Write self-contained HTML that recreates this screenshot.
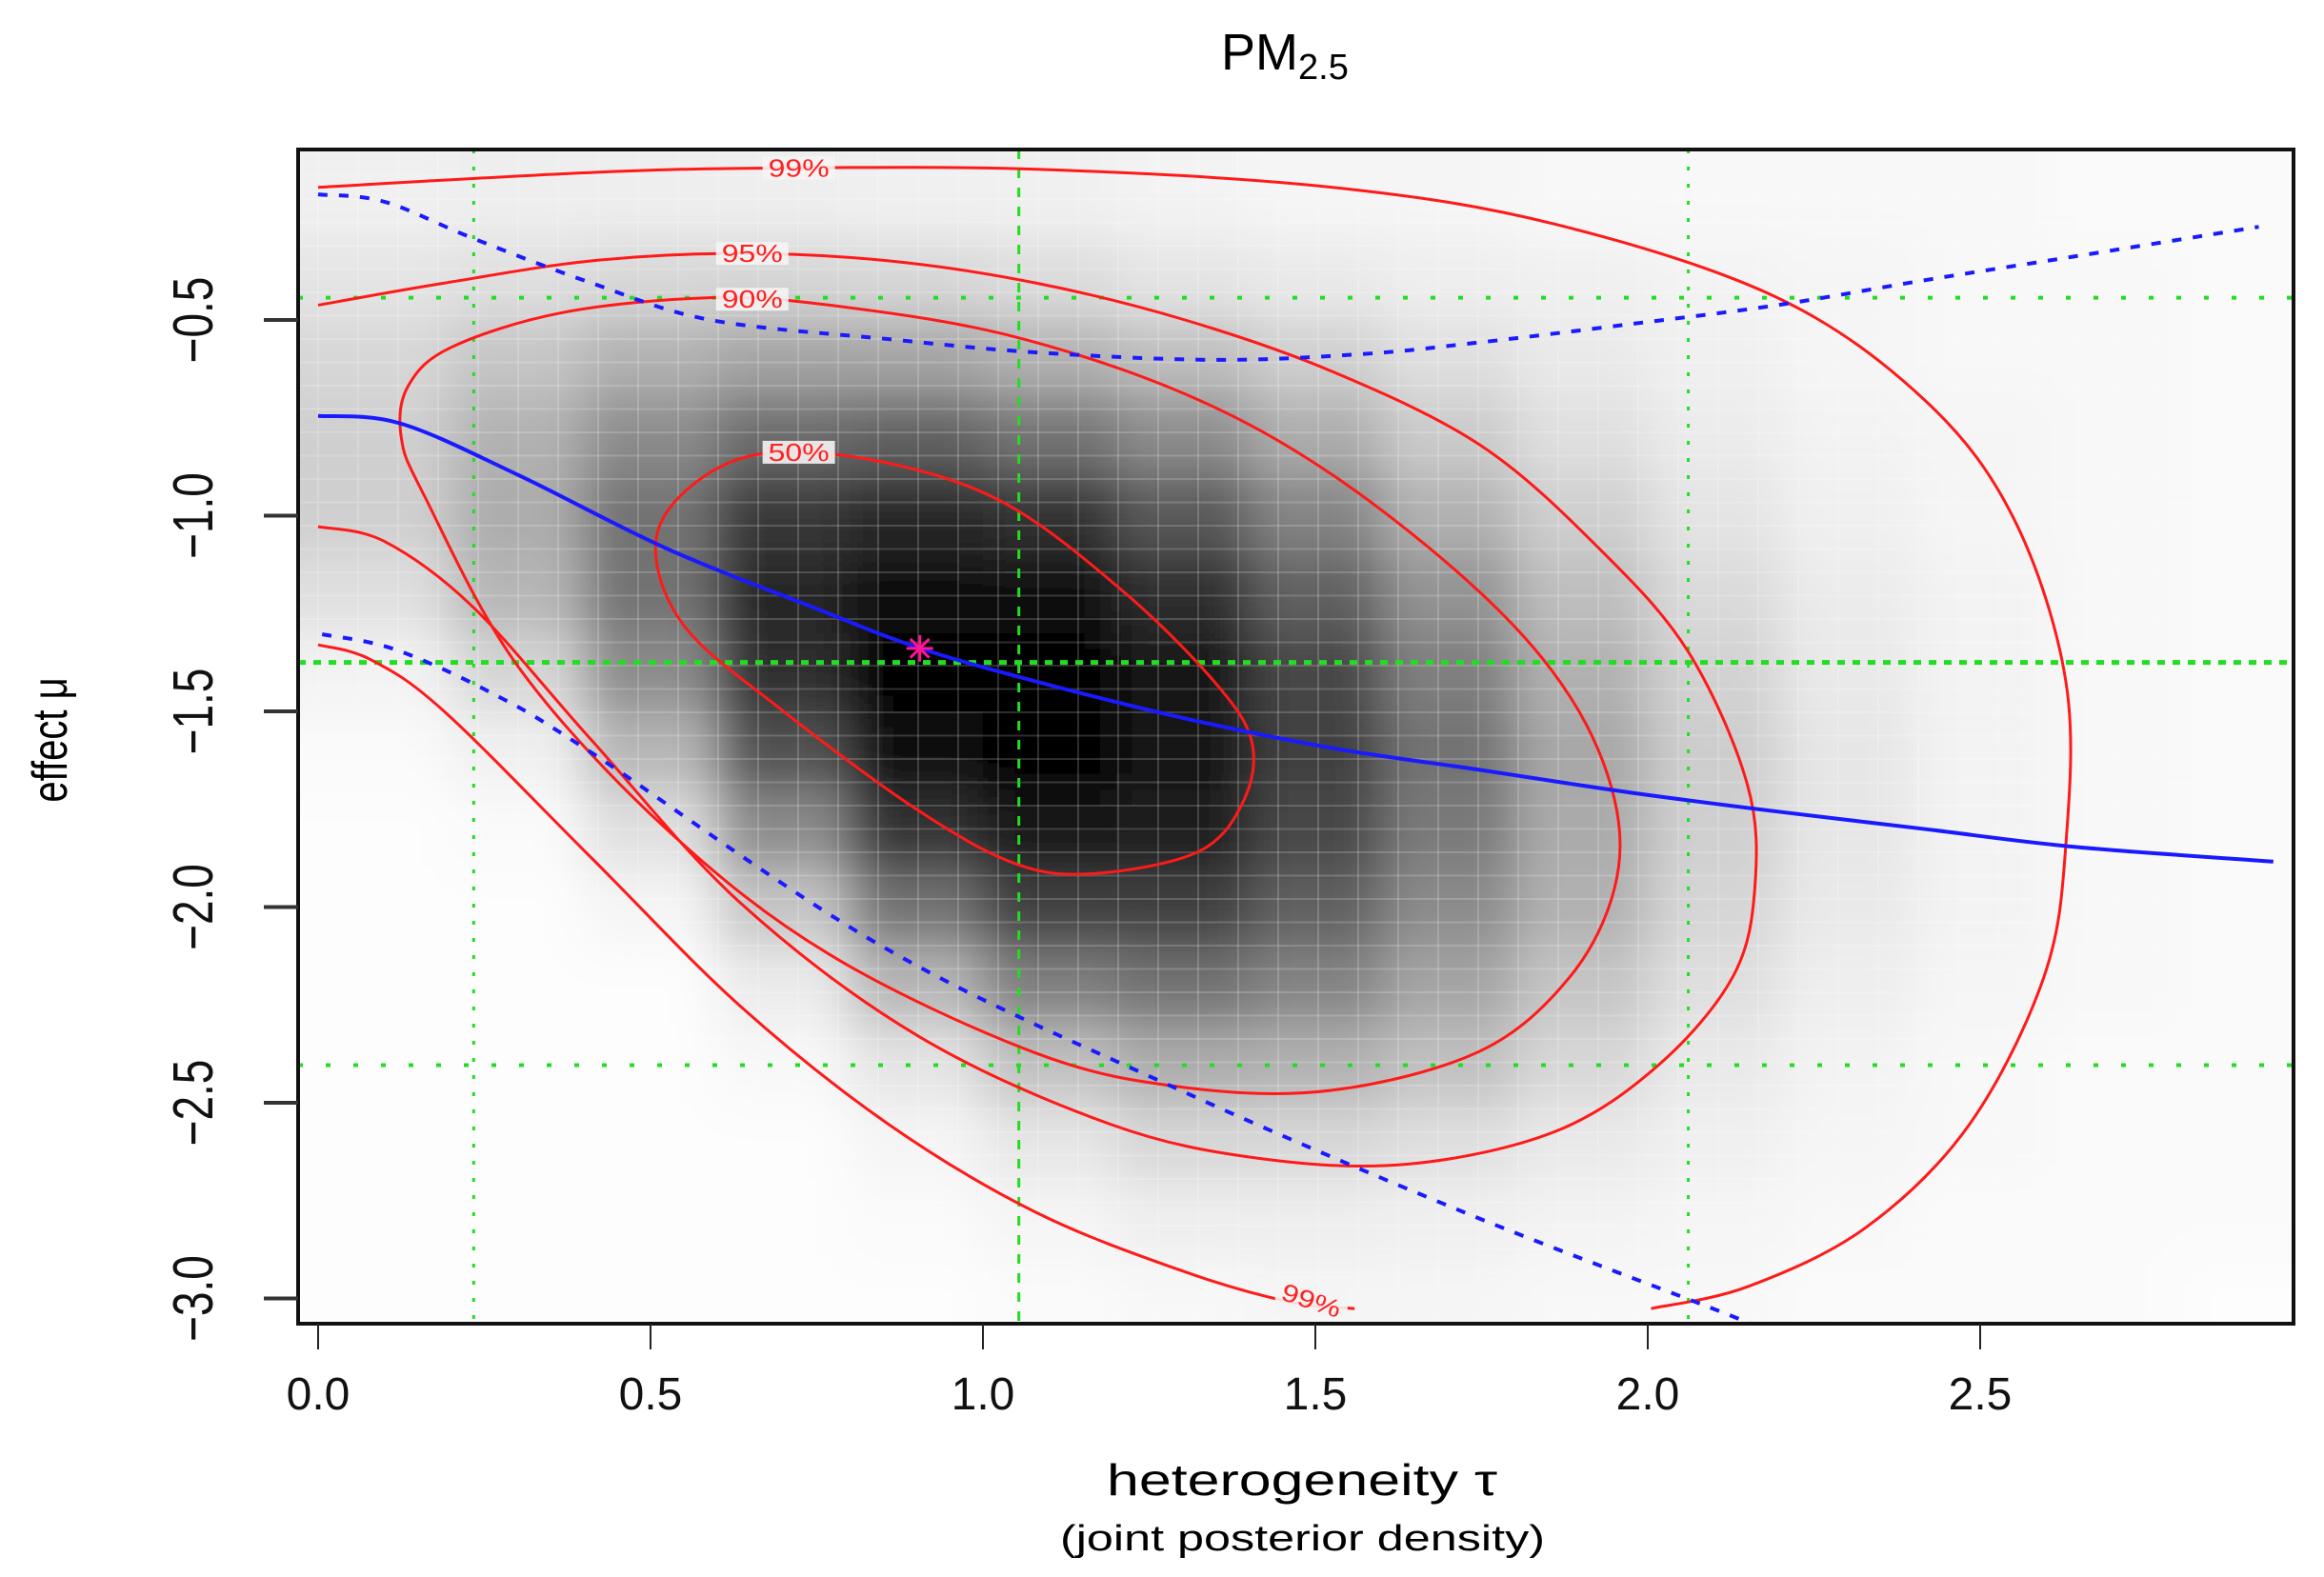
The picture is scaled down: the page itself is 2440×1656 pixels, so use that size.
<!DOCTYPE html>
<html><head><meta charset="utf-8"><style>
html,body{margin:0;padding:0;background:#fff;}
svg{display:block;}
text{font-family:"Liberation Sans",sans-serif;}
</style></head><body>
<svg id="chart" width="2440" height="1656" viewBox="0 0 2440 1656" xmlns="http://www.w3.org/2000/svg">
<defs>
<clipPath id="plotclip"><rect x="313" y="157" width="2095" height="1233"/></clipPath>
<filter id="blur" x="-10%" y="-10%" width="120%" height="120%"><feGaussianBlur stdDeviation="25"/></filter>
</defs>
<rect x="0" y="0" width="2440" height="1656" fill="#fff"/>
<g id="heat" clip-path="url(#plotclip)"></g>
<g id="gridtex" clip-path="url(#plotclip)"></g>
<g id="refs" clip-path="url(#plotclip)"></g>
<g id="curves" clip-path="url(#plotclip)"></g>
<g id="labels"></g>
<rect x="313" y="157" width="2095" height="1233" fill="none" stroke="#111" stroke-width="4"/>
<g id="axes"></g>
<text x="1282" y="73" font-size="54">PM<tspan font-size="38" dy="10">2.5</tspan></text>
<text x="1162" y="1570" font-size="46" textLength="410" lengthAdjust="spacingAndGlyphs">heterogeneity τ</text>
<text x="1113" y="1628" font-size="38" textLength="509" lengthAdjust="spacingAndGlyphs">(joint posterior density)</text>
<text transform="translate(70,777) rotate(-90) scale(1,1.3)" text-anchor="middle" font-size="40">effect μ</text>
</svg>
<script>
// ---- data ----
const tauCenters=[0.1,0.3,0.5,0.7,0.9,1.1,1.3,1.5,1.7,1.9,2.1,2.3,2.5,2.7,2.9];
const muCenters=[-0.2,-0.4,-0.6,-0.8,-1.0,-1.2,-1.4,-1.6,-1.8,-2.0,-2.2,-2.4,-2.6,-2.8,-3.0];
const density=[
[0.05,0.06,0.06,0.06,0.05,0.05,0.04,0.03,0.03,0.02,0.02,0.02,0.02,0.01,0.01],
[0.10,0.12,0.15,0.16,0.15,0.13,0.10,0.08,0.06,0.05,0.04,0.03,0.02,0.02,0.01],
[0.15,0.22,0.30,0.35,0.35,0.30,0.25,0.18,0.12,0.08,0.05,0.03,0.02,0.02,0.01],
[0.18,0.30,0.45,0.58,0.62,0.55,0.45,0.32,0.20,0.12,0.07,0.04,0.03,0.02,0.01],
[0.18,0.32,0.55,0.78,0.85,0.80,0.65,0.48,0.30,0.18,0.10,0.05,0.03,0.02,0.01],
[0.12,0.28,0.55,0.85,0.95,0.95,0.82,0.62,0.42,0.25,0.14,0.07,0.04,0.02,0.01],
[0.04,0.16,0.45,0.82,1.00,1.00,0.90,0.72,0.50,0.30,0.17,0.08,0.04,0.02,0.01],
[0.01,0.05,0.28,0.68,0.95,1.00,0.92,0.75,0.55,0.34,0.19,0.09,0.04,0.02,0.01],
[0.00,0.01,0.12,0.45,0.80,0.92,0.88,0.72,0.52,0.33,0.18,0.09,0.04,0.02,0.01],
[0.00,0.00,0.03,0.22,0.55,0.75,0.75,0.62,0.45,0.30,0.16,0.08,0.04,0.02,0.01],
[0.00,0.00,0.00,0.07,0.28,0.50,0.55,0.48,0.35,0.22,0.12,0.06,0.03,0.02,0.01],
[0.00,0.00,0.00,0.02,0.10,0.24,0.32,0.30,0.24,0.15,0.08,0.04,0.02,0.01,0.01],
[0.00,0.00,0.00,0.00,0.03,0.09,0.15,0.15,0.12,0.08,0.05,0.03,0.02,0.01,0.01],
[0.00,0.00,0.00,0.00,0.01,0.03,0.06,0.06,0.05,0.04,0.03,0.02,0.01,0.01,0.01],
[0.00,0.00,0.00,0.00,0.00,0.01,0.02,0.03,0.03,0.02,0.02,0.01,0.01,0.01,0.00]];
const xTicks=[0,0.5,1,1.5,2,2.5];
const xTickLabels=["0.0","0.5","1.0","1.5","2.0","2.5"];
const yTicks=[-0.5,-1,-1.5,-2,-2.5,-3];
const yTickLabels=["−0.5","−1.0","−1.5","−2.0","−2.5","−3.0"];
const c50Tau=[0.508,0.568,0.680,0.858,1.036,1.214,1.348,1.404,1.393,1.326,1.170,1.050,0.900,0.700,0.550];
const c50Mu=[-1.066,-0.915,-0.839,-0.866,-0.971,-1.198,-1.424,-1.575,-1.725,-1.857,-1.914,-1.890,-1.750,-1.500,-1.280];
const c90Tau=[0.135,0.200,0.368,0.590,0.769,1.036,1.304,1.526,1.749,1.883,1.950,1.950,1.883,1.749,1.526,1.304,1.081,0.769,0.524,0.301,0.160,0.125];
const c90Mu=[-0.670,-0.570,-0.481,-0.443,-0.462,-0.538,-0.689,-0.896,-1.198,-1.462,-1.725,-1.952,-2.178,-2.367,-2.468,-2.461,-2.374,-2.121,-1.801,-1.386,-0.950,-0.800];
const c95Tau=[0,0.189,0.412,0.635,0.858,1.081,1.304,1.526,1.749,1.927,2.061,2.150,2.161,2.128,2.016,1.860,1.638,1.415,1.192,0.902,0.635,0.412,0.234,0.100,0];
const c95Mu=[-0.462,-0.406,-0.349,-0.330,-0.349,-0.406,-0.500,-0.632,-0.821,-1.084,-1.348,-1.688,-1.952,-2.178,-2.404,-2.574,-2.657,-2.642,-2.555,-2.329,-1.989,-1.575,-1.235,-1.066,-1.028];
const c99UpperTau=[0,0.412,0.680,1.081,1.526,1.860,2.195,2.418,2.551,2.629,2.629,2.596,2.484,2.328,2.150,2.005];
const c99UpperMu=[-0.161,-0.123,-0.112,-0.115,-0.161,-0.255,-0.443,-0.707,-1.009,-1.424,-1.839,-2.178,-2.555,-2.819,-2.970,-3.026];
const c99LowerTau=[0,0.078,0.189,0.412,0.635,0.858,1.081,1.304,1.459,1.559];
const c99LowerMu=[-1.330,-1.367,-1.499,-1.876,-2.253,-2.555,-2.781,-2.932,-3.008,-3.026];
const meanTau=[0,0.123,0.301,0.524,0.746,0.902,1.081,1.304,1.526,1.749,1.972,2.195,2.418,2.641,2.941];
const meanMu=[-0.745,-0.764,-0.896,-1.084,-1.235,-1.337,-1.424,-1.518,-1.594,-1.650,-1.707,-1.756,-1.801,-1.846,-1.884];
const upperTau=[0,0.100,0.234,0.412,0.590,0.858,1.081,1.348,1.571,1.749,1.972,2.195,2.418,2.641,2.919];
const upperMu=[-0.179,-0.198,-0.292,-0.406,-0.500,-0.549,-0.583,-0.602,-0.587,-0.557,-0.511,-0.462,-0.398,-0.338,-0.262];
const lowerTau=[0.006,0.116,0.262,0.408,0.847,1.285,1.724,2.119,2.17];
const lowerMu=[-1.303,-1.342,-1.454,-1.602,-2.099,-2.459,-2.780,-3.040,-3.08];
const vRefTau=[0.234,1.054,2.061];
const hRefMu=[-0.443,-1.375,-2.404];
const modeTau=0.905, modeMu=-1.339;
const contourLabels=["99%","95%","90%","50%","99%"];
const labelTau=[0.723,0.653,0.653,0.723,1.494];
const labelMu=[-0.112,-0.330,-0.447,-0.838,-3.005];

// ---- scales ----
const X=t=>334+698*t;
const Y=m=>336+(-0.5-m)*411;
const NS='http://www.w3.org/2000/svg';
function mk(tag,attrs,parent){const e=document.createElementNS(NS,tag);for(const k in attrs)e.setAttribute(k,attrs[k]);parent.appendChild(e);return e;}
function smooth(ts,ms,closed){
  const p=ts.map((t,i)=>[X(t),Y(ms[i])]);const n=p.length;
  let d='M'+p[0][0].toFixed(1)+','+p[0][1].toFixed(1);
  const get=i=>closed?p[(i+n)%n]:p[Math.max(0,Math.min(n-1,i))];
  const segs=closed?n:n-1;
  for(let i=0;i<segs;i++){const p0=get(i-1),p1=get(i),p2=get(i+1),p3=get(i+2);
    const c1=[p1[0]+(p2[0]-p0[0])/6,p1[1]+(p2[1]-p0[1])/6];
    const c2=[p2[0]-(p3[0]-p1[0])/6,p2[1]-(p3[1]-p1[1])/6];
    d+='C'+c1[0].toFixed(1)+','+c1[1].toFixed(1)+' '+c2[0].toFixed(1)+','+c2[1].toFixed(1)+' '+p2[0].toFixed(1)+','+p2[1].toFixed(1);}
  if(closed)d+='Z';return d;}

// heatmap
const heat=document.getElementById('heat');
const hg=mk('g',{filter:'url(#blur)'},heat);
const dT=0.2,dM=0.2;
for(let r=0;r<muCenters.length;r++)for(let c=0;c<tauCenters.length;c++){
  const v=density[r][c];const g=Math.round(253*(1-v));
  const x0=X(tauCenters[c]-dT/2), x1=X(tauCenters[c]+dT/2), y0=Y(muCenters[r]+dM/2), y1=Y(muCenters[r]-dM/2);
  const ex=(c===0?-80:0), ey=(r===0?-80:0);
  const ex2=(c===tauCenters.length-1?80:0), ey2=(r===muCenters.length-1?80:0);
  const cell=mk('rect',{x:x0+ex,y:y0+ey,width:x1-x0+1-ex+ex2,height:y1-y0+1-ey+ey2,fill:`rgb(${g},${g},${g})`},hg);
  
  
}
// faint cell grid texture
const gt=document.getElementById('gridtex');
for(let x=334;x<2408;x+=42){mk('line',{x1:x,y1:157,x2:x,y2:1390,stroke:'#fff','stroke-opacity':0.18,'stroke-width':2},gt);}
for(let y=160;y<1390;y+=24.5){mk('line',{x1:313,y1:y,x2:2408,y2:y,stroke:'#fff','stroke-opacity':0.18,'stroke-width':2},gt);}

// reference lines
const refs=document.getElementById('refs');
vRefTau.forEach((t,i)=>{const l=mk('line',{x1:X(t),y1:157,x2:X(t),y2:1390,stroke:'#22dd22','stroke-width':3,'stroke-dasharray':i===1?'10,10':'4,14'},refs);
  });
hRefMu.forEach((m,i)=>{const l=mk('line',{x1:313,y1:Y(m),x2:2408,y2:Y(m),stroke:'#22dd22','stroke-width':i===1?5:4,'stroke-dasharray':i===1?'8,8':'5,24'},refs);
  });

// curves
const cv=document.getElementById('curves');
const addPath=(d,stroke,w,dash,name)=>{const p=mk('path',{d:d,fill:'none',stroke:stroke,'stroke-width':w},cv);if(dash)p.setAttribute('stroke-dasharray',dash);
  return p;};
addPath(smooth(c50Tau,c50Mu,true),'#ff1a1a',3,null,'contour-50');
addPath(smooth(c90Tau,c90Mu,true),'#ff1a1a',3,null,'contour-90');
addPath(smooth(c95Tau,c95Mu,false),'#ff1a1a',3,null,'contour-95');
addPath(smooth(c99UpperTau,c99UpperMu,false),'#ff1a1a',3,null,'contour-99-upper');
addPath(smooth(c99LowerTau,c99LowerMu,false),'#ff1a1a',3,null,'contour-99-lower');
addPath(smooth(meanTau,meanMu,false),'#1a1aff',4,null,'conditional-mean-line');
addPath(smooth(upperTau,upperMu,false),'#1a1aff',4,'10,12','conditional-upper-bound');
addPath(smooth(lowerTau,lowerMu,false),'#1a1aff',4,'10,12','conditional-lower-bound');
// mode star
const sx=X(modeTau), sy=Y(modeMu);
const star=mk('g',{stroke:'#ff1493','stroke-width':3},cv);


for(let a=0;a<4;a++){const ang=a*Math.PI/4;mk('line',{x1:sx-14*Math.cos(ang),y1:sy-14*Math.sin(ang),x2:sx+14*Math.cos(ang),y2:sy+14*Math.sin(ang)},star);}

// contour labels
const lab=document.getElementById('labels');
contourLabels.forEach((s,i)=>{const x=X(labelTau[i]),y=Y(labelMu[i]);
  mk('rect',{x:x-38,y:y-12,width:76,height:24,fill:'#f4f4f4','fill-opacity':0.9},lab);
  const t=mk('text',{x:x,y:y+9,'text-anchor':'middle','font-size':26,fill:'#ff2020',textLength:64,lengthAdjust:'spacingAndGlyphs'},lab);
  if(i===4)t.setAttribute('transform',`rotate(18 ${x} ${y})`);
  t.textContent=s;
  
  });

// axes
const ax=document.getElementById('axes');
xTicks.forEach((t,i)=>{mk('line',{x1:X(t),y1:1390,x2:X(t),y2:1417,stroke:'#222','stroke-width':2},ax);
  const tx=mk('text',{x:X(t),y:1480,'text-anchor':'middle','font-size':48,fill:'#111'},ax);tx.textContent=xTickLabels[i];
  });
yTicks.forEach((m,i)=>{mk('line',{x1:277,y1:Y(m),x2:313,y2:Y(m),stroke:'#333','stroke-width':4},ax);
  const tx=mk('text',{transform:`translate(223,${Y(m)}) rotate(-90) scale(1,1.3)`,'text-anchor':'middle','font-size':46,fill:'#111'},ax);tx.textContent=yTickLabels[i];
  });
</script>
</body></html>
